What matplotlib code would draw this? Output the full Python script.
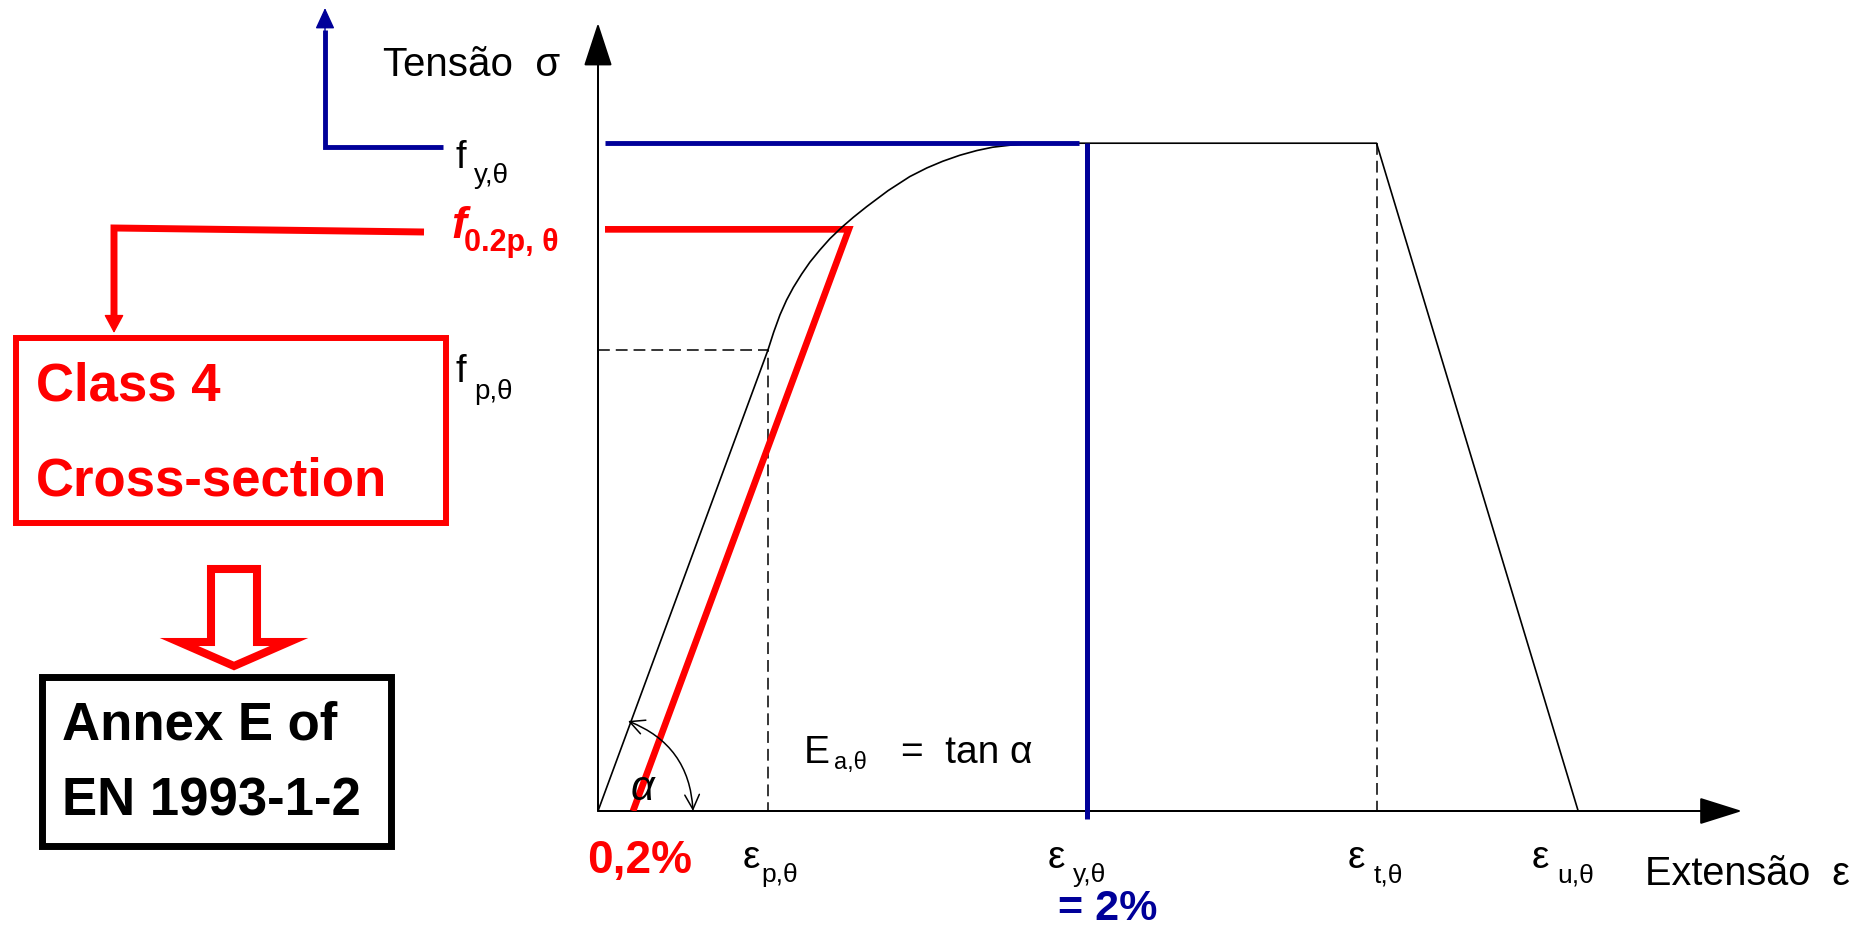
import numpy as np
import matplotlib
matplotlib.use('Agg')
import matplotlib.pyplot as plt
from matplotlib.patches import Polygon, Rectangle, FancyArrowPatch

plt.rcParams['font.family'] = ['Liberation Sans', 'DejaVu Sans']
plt.rcParams['lines.scale_dashes'] = False

RED = '#ff0000'
BLUE = '#000099'

# schematic stress-strain law: strain in %, stress as a fraction of f_y,theta
eps_p, eps_y, eps_t, eps_u = 0.735, 2.0, 3.15, 3.95
f_p, f_02, f_y = 0.69, 0.871, 1.0
eps_off = 0.2      # 0,2 % offset line
eps_02 = 1.056     # offset line reaches f_0.2p
eps_start = 0.04   # where the f lines start, just right of the axis
eps_fy_end = 1.97
sig_below = -0.012

elastic_eps = [0.0, eps_p]
elastic_sig = [0.0, f_p]

curve_eps = [0.735, 0.758, 0.783, 0.809, 0.836, 0.869, 0.902, 0.941, 0.981,
             1.028, 1.074, 1.127, 1.212, 1.298, 1.366, 1.429, 1.497, 1.564,
             1.627, 1.695, 1.762, 1.826]
curve_sig = [0.690, 0.717, 0.743, 0.765, 0.784, 0.804, 0.822, 0.840, 0.857,
             0.874, 0.889, 0.905, 0.929, 0.950, 0.963, 0.973, 0.982, 0.989,
             0.994, 0.997, 0.999, 1.000]

tail_eps = [1.826, eps_t, eps_u]
tail_sig = [f_y, f_y, 0.0]

eps_max, sig_max = 4.6, 1.18

# the first 0.2 % of strain is drawn compressed
knots_eps = [0.0, 0.2, 10.0]
knots_view = [0.0, 0.139, 9.939]


def fwd(x):
    return np.interp(x, knots_eps, knots_view)


def inv(v):
    return np.interp(v, knots_view, knots_eps)


W, H = 1868, 930
fig = plt.figure(figsize=(W / 100, H / 100), dpi=100)
fig.patch.set_facecolor('white')

x0, y0 = 598, 811
ax = fig.add_axes([x0 / W, (H - y0) / H, 1144 / W, 788 / H])
ax.set_xscale('function', functions=(fwd, inv))
ax.set_xlim(0, eps_max)
ax.set_ylim(0, sig_max)
ax.axis('off')

# axes with arrow heads
ax.annotate('', xy=(eps_max, 0), xytext=(0, 0),
            arrowprops=dict(arrowstyle='-|>,head_length=2.7,head_width=0.85',
                            mutation_scale=10, lw=1.44, color='k',
                            shrinkA=0, shrinkB=0))
ax.annotate('', xy=(0, sig_max), xytext=(0, 0),
            arrowprops=dict(arrowstyle='-|>,head_length=2.75,head_width=0.9',
                            mutation_scale=10, lw=1.44, color='k',
                            shrinkA=0, shrinkB=0))

dash = dict(color='k', lw=1.1, dashes=(8.5, 4.3))
ax.plot([0, eps_p, eps_p], [f_p, f_p, 0], **dash)
ax.plot([eps_t, eps_t], [f_y, 0], **dash)

ax.plot([eps_start, eps_02, eps_off], [f_02, f_02, 0], color=RED, lw=4.8,
        solid_joinstyle='miter', solid_capstyle='butt', zorder=3)

ax.plot(elastic_eps, elastic_sig, color='k', lw=1.2, zorder=4)
ax.plot(curve_eps, curve_sig, color='k', lw=1.2, zorder=4,
        solid_joinstyle='round')
ax.plot(tail_eps, tail_sig, color='k', lw=1.2, zorder=4)

ax.plot([eps_start, eps_fy_end], [f_y, f_y], color=BLUE, lw=3.5,
        solid_capstyle='butt', zorder=5)
ax.plot([eps_y, eps_y], [f_y, sig_below], color=BLUE, lw=3.6,
        solid_capstyle='butt', clip_on=False, zorder=5)

# annotations on a pixel-sized overlay
ov = fig.add_axes([0, 0, 1, 1], zorder=5)
ov.set_xlim(0, W)
ov.set_ylim(H, 0)
ov.axis('off')


def txt(x, y, s, size, **kw):
    ov.text(x, y, s, fontsize=size, va='baseline', ha='left', **kw)


# angle alpha
ov.add_patch(FancyArrowPatch((628, 721), (693, 811),
                             connectionstyle='arc3,rad=-0.32',
                             arrowstyle='<->,head_length=0.7,head_width=0.35',
                             mutation_scale=15, lw=1.1, color='k',
                             shrinkA=0, shrinkB=0))
txt(631, 800, 'α', 30, style='italic')

txt(383, 76, 'Tensão  σ', 29)
txt(1645, 885, 'Extensão  ε', 28.5)

# f labels
txt(456, 168, 'f', 27.5)
txt(474, 183, 'y,θ', 20)
txt(451, 238, 'f', 32.5, color=RED, weight='bold', style='italic')
txt(464, 251, '0.2p, θ', 22, color=RED, weight='bold')
txt(456, 382, 'f', 27.5)
txt(474, 399, 'p,θ', 20)

# strain labels
txt(743, 868, 'ε', 28)
txt(761, 882, 'p,θ', 19)
txt(1048, 868, 'ε', 28)
txt(1073, 882, 'y,θ', 19)
txt(1348, 868, 'ε', 28)
txt(1374, 882, 't,θ', 19)
txt(1532, 868, 'ε', 28)
txt(1557, 882, 'u,θ', 19)
txt(587, 873, '0,2%', 33, color=RED, weight='bold')
txt(1058, 920, '= 2%', 31, color=BLUE, weight='bold')

txt(804, 763, 'E', 28)
txt(834, 769, 'a,θ', 17)
txt(901, 763, '=  tan α', 28)

# blue pointer to f_y
ov.plot([443, 325, 325], [147, 147, 30], color=BLUE, lw=3.5,
        solid_joinstyle='miter', solid_capstyle='butt')
ov.annotate('', xy=(325, 8), xytext=(325, 40),
            arrowprops=dict(arrowstyle='-|>,head_length=1.3,head_width=0.6',
                            mutation_scale=10, lw=1, color=BLUE,
                            shrinkA=0, shrinkB=0))

# red pointer from f_0.2p to the box
ov.plot([424, 114, 114], [232, 228, 320], color=RED, lw=5,
        solid_joinstyle='miter', solid_capstyle='butt')
ov.annotate('', xy=(114, 333), xytext=(114, 305),
            arrowprops=dict(arrowstyle='-|>,head_length=1.15,head_width=0.62',
                            mutation_scale=10, lw=1, color=RED,
                            shrinkA=0, shrinkB=0))

ov.add_patch(Rectangle((16, 338), 430, 185, fill=False, ec=RED, lw=4.3))
txt(36, 400, 'Class 4', 38, color=RED, weight='bold')
txt(36, 495, 'Cross-section', 38, color=RED, weight='bold')

# hollow block arrow
ov.add_patch(Polygon([(211, 569), (257, 569), (257, 642), (289, 642),
                      (234, 666), (179, 642), (211, 642)],
                     closed=True, fc='white', ec=RED, lw=5.8,
                     joinstyle='miter'))

ov.add_patch(Rectangle((42, 676.5), 349, 169.5, fill=False, ec='k', lw=5))
txt(62, 739, 'Annex E of', 38, weight='bold')
txt(62, 815, 'EN 1993-1-2', 38, weight='bold')

fig.savefig('out.png', dpi=100, facecolor='white')
